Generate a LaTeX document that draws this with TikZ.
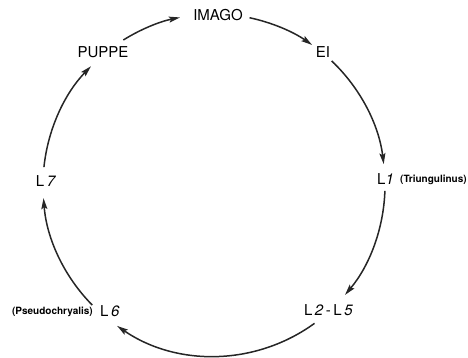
\documentclass[tikz,border=0pt]{standalone}
\usepackage{fontspec}
\setmainfont{TeX Gyre Heros}
\usetikzlibrary{arrows.meta}
\begin{document}
\begin{tikzpicture}[x=1pt,y=1pt,
  stage/.style={inner sep=0pt, font=\fontsize{15}{17}\selectfont},
  note/.style={inner sep=0pt, font=\fontsize{10}{12}\selectfont\bfseries},
  cyc/.style={line width=1.5pt, color=black!85, -{Stealth[length=11pt,width=6pt,inset=2pt]}}]
\useasboundingbox (-214,-172) rectangle (254,185);
\def\R{171}
% stage labels
\node[stage] (imago) at (4,170) {IMAGO};
\node[stage] (ei) at (109,133) {EI};
\node[stage,anchor=west] (l1) at (163,6) {L\textit{1}};
\node[note,anchor=west] (tri) at (186,5.5) {(Triungulinus)};
\node[stage] (l25) at (114.5,-125) {L\,\textit{2}\,-\,L\,\textit{5}};
\node[stage,anchor=west] (l6) at (-114,-126) {L\,\textit{6}};
\node[note,anchor=east] (pseudo) at (-121,-126.5) {(Pseudochryalis)};
\node[stage] (l7) at (-168,4) {L\,\textit{7}};
\node[stage] (puppe) at (-111,132.5) {PUPPE};
% arc start points on the circle
\coordinate (s1) at (78:\R);
\coordinate (s2) at (46.5:\R);
\coordinate (s3) at (-2:\R);
\coordinate (s4) at (-54:\R);
\coordinate (s5) at (224.6:\R);
\coordinate (s6) at (174:\R);
\coordinate (s7) at (122:\R);
% connectors
\draw[cyc] (s1) arc[start angle=78, end angle=55, radius=\R];
\draw[cyc] (s2) arc[start angle=46.5, end angle=7, radius=\R];
\draw[cyc] (s3) arc[start angle=-2, end angle=-40, radius=\R];
\draw[cyc] (s4) arc[start angle=-54, end angle=-124.5, radius=\R];
\draw[cyc] (s5) arc[start angle=224.6, end angle=184.4, radius=\R];
\draw[cyc] (s6) arc[start angle=174, end angle=136, radius=\R];
\draw[cyc] (s7) arc[start angle=122, end angle=101.5, radius=\R];
\end{tikzpicture}
\end{document}
